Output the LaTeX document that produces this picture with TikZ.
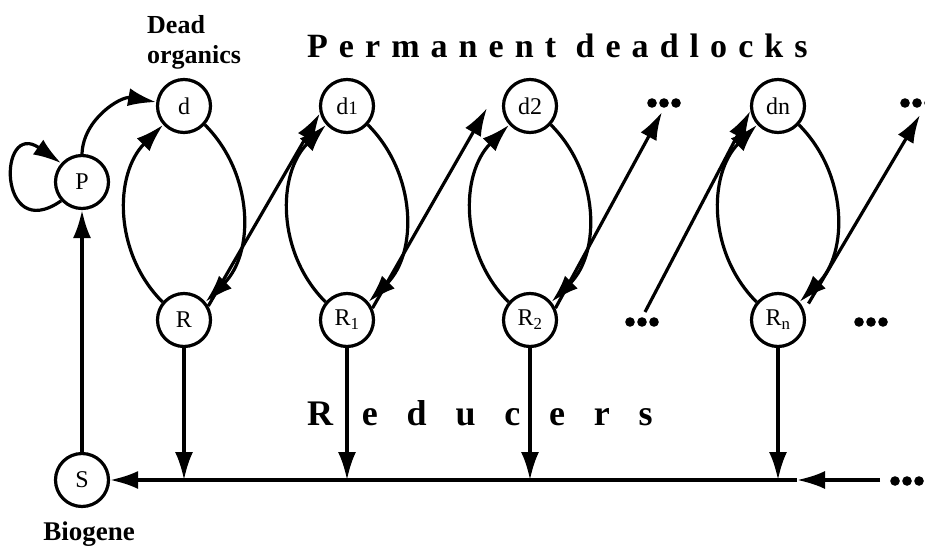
\documentclass[tikz,border=0pt]{standalone}
\usepackage{fontspec}
\setmainfont{Liberation Serif}
\newfontfamily\spacedtitle[LetterSpace=32.5]{Liberation Serif Bold}
\newfontfamily\spacedlabel[LetterSpace=80]{Liberation Serif Bold}
\usetikzlibrary{arrows.meta}

\begin{document}
\begin{tikzpicture}[x=1pt,y=1pt]
\tikzstyle{pool vertex} = [draw, circle, line width=3.2pt, minimum size=53pt, inner sep=0pt, font=\fontsize{24}{26}\selectfont]
\tikzstyle{flow edge} = [draw, line width=3.2pt, -{Latex[length=28pt,width=18pt]}]
\tikzstyle{caption} = [inner sep=0pt, font=\bfseries\fontsize{26}{30}\selectfont]
\useasboundingbox (0,0) rectangle (925,550);
\coordinate (c_P) at (82,368);
\coordinate (c_S) at (82,70);
\coordinate (c_d) at (184,444);
\coordinate (c_R) at (184,230);
\coordinate (c_d1) at (347,444);
\coordinate (c_R1) at (347,230);
\coordinate (c_d2) at (530,444);
\coordinate (c_R2) at (530,230);
\coordinate (c_dn) at (778,444);
\coordinate (c_Rn) at (778,230);
% ellipsis marks
\coordinate (c_top) at (664,447);
\coordinate (c_edge) at (917,447);
\coordinate (c_low) at (642,228);
\coordinate (c_right) at (871,228);
\coordinate (c_far) at (907,69);
% free ends of the diagonals and of the bottom line
\coordinate (c_gap) at (487,442);
\coordinate (c_topend) at (662,438);
\coordinate (c_lowstart) at (645,238);
\coordinate (c_edgeend) at (920,435);
\coordinate (c_mid) at (797,70);
\coordinate (c_end) at (880,70);
\node[pool vertex] (v_P) at (c_P) {P};
\node[pool vertex] (v_S) at (c_S) {S};
\node[pool vertex] (v_d) at (c_d) {d};
\node[pool vertex] (v_R) at (c_R) {R};
\node[pool vertex] (v_d1) at (c_d1) {d{\fontsize{19}{20}\selectfont 1}};
\node[pool vertex] (v_R1) at (c_R1) {R\textsubscript{1}};
\node[pool vertex] (v_d2) at (c_d2) {d2};
\node[pool vertex] (v_R2) at (c_R2) {R\textsubscript{2}};
\node[pool vertex] (v_dn) at (c_dn) {dn};
\node[pool vertex] (v_Rn) at (c_Rn) {R\textsubscript{n}};
\foreach \c in {c_top,c_edge,c_low,c_right,c_far}
  \foreach \dx in {-12,0,12}
    \fill[shift={(\c)}] (\dx,0) circle (4.8pt);
\node[caption, align=left, anchor=north west] (t_dead) at (147,535) {Dead\\organics};
\node[caption, font=\bfseries\fontsize{27}{30}\selectfont, anchor=base] (t_bio) at (89,10) {Biogene};
\node[inner sep=0pt, anchor=base west, font=\spacedtitle\fontsize{34}{36}\selectfont] (t_perm) at (307,492) {Permanent deadlocks};
\node[inner sep=0pt, anchor=base west, font=\spacedlabel\fontsize{36}{40}\selectfont] (t_red) at (307,125) {Reducers};
% source and producer
\path[flow edge] (v_S) -- (v_P);
\path[flow edge] (v_P.222) to[out=215,in=145,looseness=5.3] (v_P.138);
\path[flow edge] (v_P.north) to[out=88,in=170] (v_d.172);
% ovals
\path[flow edge] (v_R.140) to[out=135,in=225,looseness=1.0] (v_d.222);
\path[flow edge] (v_d.318) to[out=-45,in=45,looseness=1.0] (v_R.40);
\path[flow edge] (v_R1.140) to[out=135,in=225,looseness=1.0] (v_d1.222);
\path[flow edge] (v_d1.318) to[out=-45,in=45,looseness=1.0] (v_R1.40);
\path[flow edge] (v_R2.140) to[out=135,in=225,looseness=1.0] (v_d2.222);
\path[flow edge] (v_d2.318) to[out=-45,in=45,looseness=1.0] (v_R2.40);
\path[flow edge] (v_Rn.140) to[out=135,in=225,looseness=1.0] (v_dn.222);
\path[flow edge] (v_dn.318) to[out=-45,in=45,looseness=1.0] (v_Rn.40);
% diagonals
\path[flow edge] (v_R.30) -- (v_d1.195);
\path[flow edge] (v_R1.25) -- (c_gap);
\path[flow edge] (v_R2.25) -- (c_topend);
\path[flow edge] (c_lowstart) -- (v_dn.190);
\path[flow edge, shorten <=8pt] (v_Rn.20) -- (c_edgeend);
% reducers to the bottom line
\path[flow edge] (v_R) -- (v_R |- c_S);
\path[flow edge] (v_R1) -- (v_R1 |- c_S);
\path[flow edge] (v_R2) -- (v_R2 |- c_S);
\path[flow edge] (v_Rn) -- (v_Rn |- c_S);
\path[flow edge] (c_end) -- (c_mid);
\path[flow edge] (c_mid) -- (v_S);
\end{tikzpicture}
\end{document}
